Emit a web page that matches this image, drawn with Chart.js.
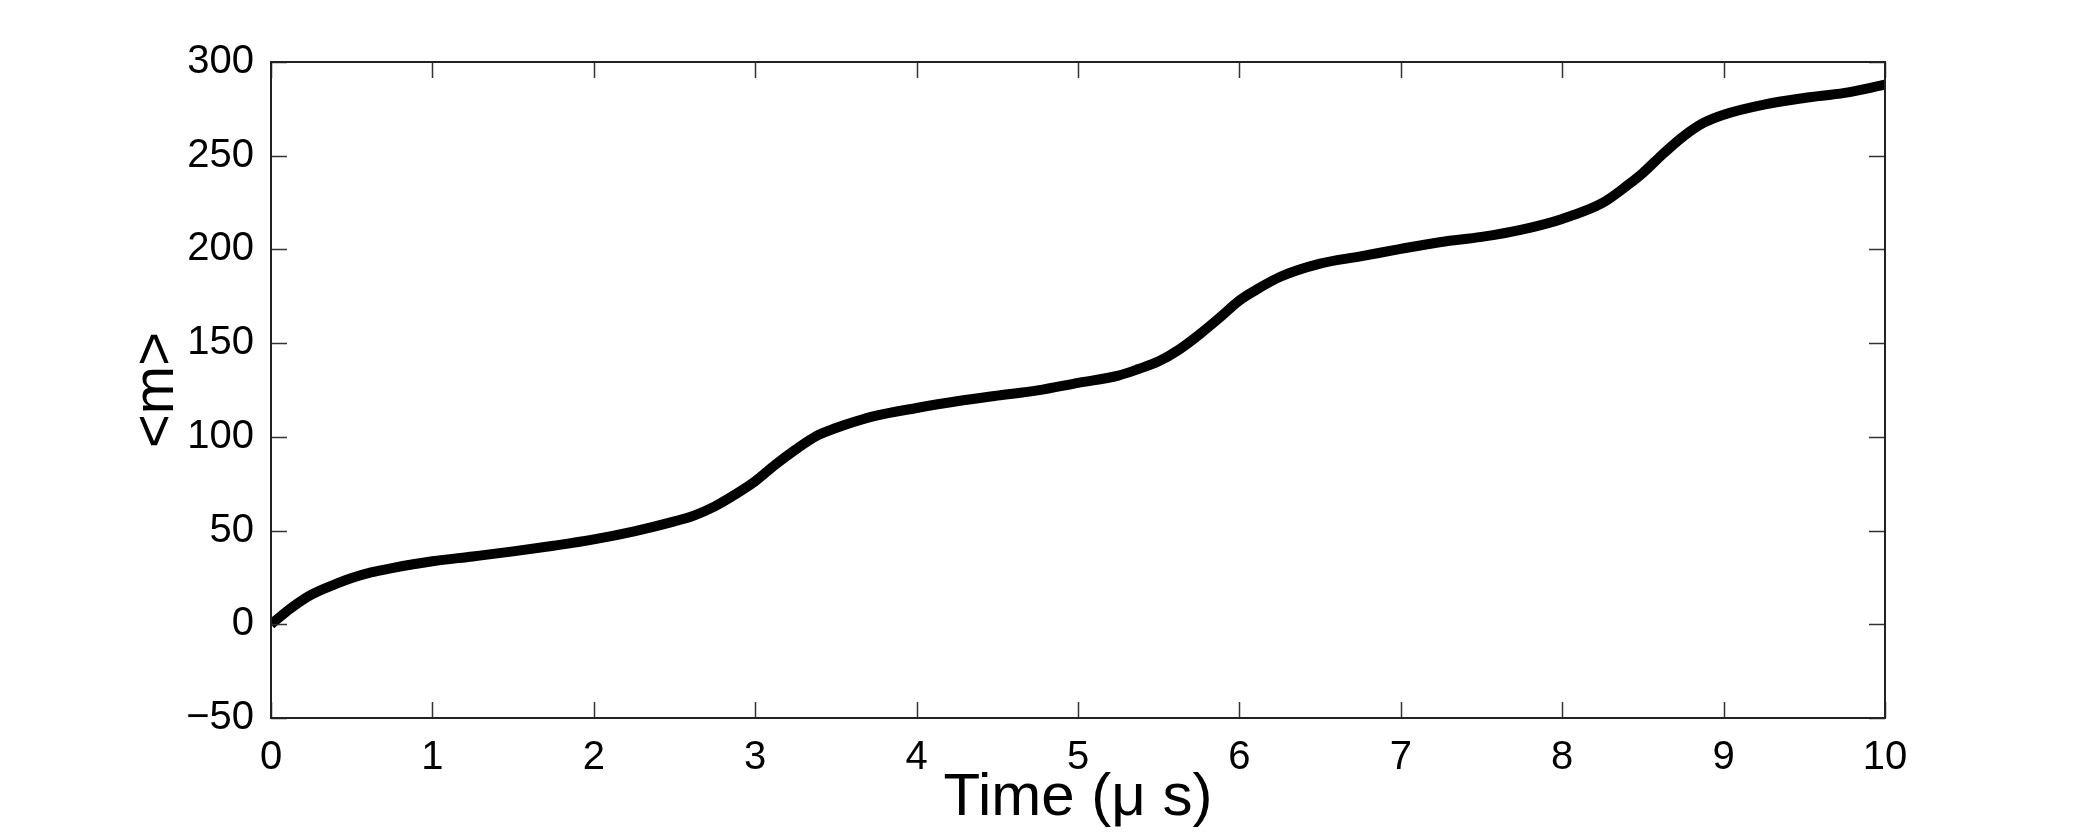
<!DOCTYPE html>
<html>
<head>
<meta charset="utf-8">
<title>&lt;m&gt; vs time</title>
<script src="https://cdn.jsdelivr.net/npm/chart.js@4/dist/chart.umd.min.js"></script>
<style>
    html, body { margin: 0; padding: 0; background: #ffffff; }
    #wrap { width: 2082px; height: 834px; }
</style>
</head>
<body>
<div id="wrap"><canvas id="m-chart" width="2082" height="834"></canvas></div>
<script>
// values
const timeUs = [
    0, 0.125, 0.25, 0.41, 0.5, 0.62, 0.75, 1.0, 1.25, 1.5, 1.75, 2.0,
    2.25, 2.5, 2.62, 2.75, 2.875, 3.0, 3.125, 3.25, 3.375, 3.5, 3.625, 3.75, 4.0,
    4.25, 4.5, 4.75, 5.0, 5.25, 5.375, 5.5, 5.625, 5.75, 5.875, 6.0,
    6.125, 6.25, 6.5, 6.75, 7.0, 7.25, 7.5, 7.75, 8.0,
    8.25, 8.41, 8.5, 8.62, 8.75, 8.875, 9.0, 9.25, 9.5, 9.75, 10.0
];
const meanM = [
    0, 8.7, 15.8, 21.8, 24.7, 27.7, 30, 33.6, 36.2, 38.9, 41.9, 45.3,
    49.6, 54.9, 58, 62.9, 69.2, 76.3, 85.2, 93.2, 100.3, 104.7, 108.3, 111.3, 115.4,
    119, 122, 124.8, 128.8, 132.7, 136.2, 140.3, 146.5, 154.5, 163.4, 172.8,
    179.5, 185.3, 192.4, 196.3, 200.3, 204, 206.7, 210.6, 216.3,
    224.8, 234.6, 240.8, 250.6, 260.3, 267.5, 271.9, 277.3, 280.8, 283.5, 287.9
];
const xTicks = [0, 1, 2, 3, 4, 5, 6, 7, 8, 9, 10];
const yTicks = [-50, 0, 50, 100, 150, 200, 250, 300];

document.addEventListener("DOMContentLoaded", function () {
    const fontFamily = "'Liberation Sans', Arial, Helvetica, sans-serif";

    // matlab style box with inward ticks on all four sides
    const boxTicks = {
        id: "boxTicks",
        afterDraw(chart) {
            const ctx = chart.ctx;
            const area = chart.chartArea;
            const xs = chart.scales.x;
            const ys = chart.scales.y;
            const len = 16;
            ctx.save();
            ctx.strokeStyle = "#333333";
            ctx.lineWidth = 1.5;
            ctx.beginPath();
            xTicks.forEach(v => {
                const px = Math.round(xs.getPixelForValue(v)) + 0.5;
                ctx.moveTo(px, area.bottom);
                ctx.lineTo(px, area.bottom - len);
                ctx.moveTo(px, area.top);
                ctx.lineTo(px, area.top + len);
            });
            yTicks.forEach(v => {
                const py = Math.round(ys.getPixelForValue(v)) + 0.5;
                ctx.moveTo(area.left, py);
                ctx.lineTo(area.left + len, py);
                ctx.moveTo(area.right, py);
                ctx.lineTo(area.right - len, py);
            });
            ctx.stroke();
            ctx.strokeStyle = "#222222";
            ctx.lineWidth = 2;
            ctx.strokeRect(area.left, area.top, area.right - area.left, area.bottom - area.top);
            ctx.restore();
        }
    };

    const ctx = document.getElementById("m-chart").getContext("2d");
    new Chart(ctx, {
        type: "line",
        data: {
            datasets: [{
                label: "<m>",
                data: timeUs.map((t, i) => ({ x: t, y: meanM[i] })),
                borderColor: "#000000",
                borderWidth: 10,
                pointRadius: 0,
                fill: false,
                cubicInterpolationMode: "monotone",
                clip: 0,
            }],
        },
        options: {
            responsive: false,
            animation: false,
            layout: {
                padding: { left: 122, right: 197, top: 62, bottom: 0 },
            },
            plugins: {
                legend: { display: false },
                tooltip: { enabled: false },
            },
            scales: {
                x: {
                    type: "linear",
                    min: 0,
                    max: 10,
                    afterBuildTicks: scale => { scale.ticks = xTicks.map(v => ({ value: v })); },
                    grid: { display: false },
                    border: { display: false },
                    ticks: {
                        color: "#000000",
                        padding: 8,
                        maxRotation: 0,
                        font: { family: fontFamily, size: 40 },
                    },
                    title: {
                        display: true,
                        text: "Time (\u03bc s)",
                        color: "#000000",
                        padding: { top: 0, bottom: 0 },
                        font: { family: fontFamily, size: 60 },
                    },
                    afterFit: scale => { scale.height = 116; },
                },
                y: {
                    type: "linear",
                    min: -50,
                    max: 300,
                    afterBuildTicks: scale => { scale.ticks = yTicks.map(v => ({ value: v })); },
                    grid: { display: false },
                    border: { display: false },
                    ticks: {
                        color: "#000000",
                        padding: 9,
                        font: { family: fontFamily, size: 40 },
                        callback: v => String(v).replace("-", "\u2212"),
                    },
                    title: {
                        display: true,
                        text: "<m>",
                        color: "#000000",
                        padding: 0,
                        font: { family: fontFamily, size: 58 },
                    },
                    afterFit: scale => { scale.width = 271 - 122; },
                },
            },
        },
        plugins: [boxTicks],
    });
});
</script>
</body>
</html>
